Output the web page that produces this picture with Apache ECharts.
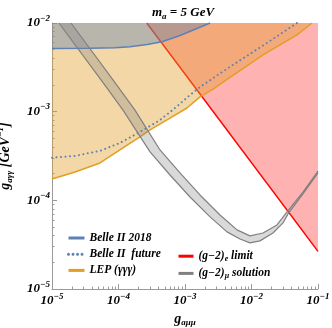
<!DOCTYPE html>
<html><head><meta charset="utf-8">
<script src="https://cdn.jsdelivr.net/npm/echarts@6/dist/echarts.min.js"></script>
<style>html,body{margin:0;padding:0;background:#fff}#c{width:332px;height:328px}</style>
</head><body><div id="c"></div>
<script>
// ---- data ----
const xTicks = [1e-5, 1e-4, 1e-3, 1e-2, 1e-1];
const yTicks = [1e-5, 1e-4, 1e-3, 1e-2];
const xMinorTicks = [];
const yMinorTicks = [];
[1e-5, 1e-4, 1e-3, 1e-2].forEach(d => { for (let k = 2; k <= 9; k++) xMinorTicks.push(k * d); });
[1e-5, 1e-4, 1e-3].forEach(d => { for (let k = 2; k <= 9; k++) yMinorTicks.push(k * d); });

const belle18X = [1e-5, 3.72e-5, 8.85e-5, 1.49e-4, 2.69e-4, 4.51e-4, 8.41e-4, 1.51e-3, 2.38e-3];
const belle18Y = [5.16e-3, 5.19e-3, 5.25e-3, 5.40e-3, 5.73e-3, 6.15e-3, 7.23e-3, 8.67e-3, 1.0e-2];
const belleFutX = [1e-5, 2.22e-5, 5.27e-5, 1.05e-4, 2.10e-4, 4.21e-4, 7.08e-4, 1.19e-3, 1.68e-3, 4.75e-3, 1.49e-2, 4.83e-2];
const belleFutY = [3.03e-4, 3.17e-4, 3.61e-4, 4.44e-4, 5.90e-4, 8.05e-4, 1.10e-3, 1.54e-3, 1.90e-3, 3.21e-3, 5.57e-3, 1.0e-2];
const lepX = [1e-5, 2.22e-5, 5.27e-5, 1.05e-4, 2.10e-4, 2.98e-4, 5.36e-4, 1.07e-3, 1.68e-3, 2.64e-3, 4.75e-3, 1.49e-2, 4.83e-2, 8.13e-2];
const lepY = [1.74e-4, 2.09e-4, 2.64e-4, 3.70e-4, 5.19e-4, 6.22e-4, 8.07e-4, 1.10e-3, 1.47e-3, 1.80e-3, 2.43e-3, 4.36e-3, 7.33e-3, 1.0e-2];
const gex = [2.66e-4, 1e-1];
const gey = [1e-2, 2.66e-5];
const gmuLoX = [1.27e-5, 5.46e-5, 1.17e-4, 2.98e-4, 5.95e-4, 1.19e-3, 2.38e-3, 4.28e-3, 6.72e-3, 9.49e-3, 1.34e-2, 2.10e-2, 2.98e-2, 3.54e-2, 5.94e-2, 1e-1];
const gmuLoY = [1e-2, 2.28e-3, 1.04e-3, 3.52e-4, 1.93e-4, 1.09e-4, 6.50e-5, 4.41e-5, 3.67e-5, 3.31e-5, 3.49e-5, 4.28e-5, 5.56e-5, 7.03e-5, 1.18e-4, 2.04e-4];
const gmuHiX = [1.93e-5, 8.26e-5, 1.77e-4, 4.21e-4, 8.41e-4, 1.68e-3, 3.36e-3, 6.05e-3, 9.49e-3, 1.49e-2, 2.42e-2, 3.42e-2, 5.94e-2, 1e-1];
const gmuHiY = [1e-2, 2.28e-3, 1.04e-3, 3.70e-4, 2.04e-4, 1.15e-4, 6.84e-5, 4.64e-5, 3.97e-5, 4.28e-5, 5.28e-5, 7.40e-5, 1.24e-4, 2.14e-4];

const X_MIN = 1e-5, X_MAX = 1e-1, Y_MIN = 1e-5, Y_MAX = 1e-2;

// ---- helpers ----
const zip = (xs, ys) => xs.map((x, i) => [x, ys[i]]);
const FONT = 'Liberation Serif';
const base = { fontFamily: FONT, fontWeight: 'bold', fontStyle: 'italic', color: '#000' };

function polySeries(pts, fill, z) {
  return {
    type: 'custom', z: z, silent: true, coordinateSystem: 'cartesian2d',
    xAxisIndex: 0, yAxisIndex: 0,
    data: [pts[0]],
    renderItem: function (params, api) {
      return { type: 'polygon', shape: { points: pts.map(p => api.coord(p)) }, style: { fill: fill } };
    }
  };
}
function lineSeries(name, pts, color, z, extra) {
  return Object.assign({
    type: 'line', name: name, z: z, data: pts, symbol: 'none', silent: true,
    lineStyle: { color: color, width: 1.5 }, itemStyle: { color: color }
  }, extra || {});
}

const belle18 = zip(belle18X, belle18Y);
const belleFut = zip(belleFutX, belleFutY);
const lep = zip(lepX, lepY);
const ge = zip(gex, gey);
const gmuLo = zip(gmuLoX, gmuLoY);
const gmuHi = zip(gmuHiX, gmuHiY);

const pinkPoly = ge.concat([[X_MAX, Y_MAX]]);
const lepPoly = lep.concat([[X_MIN, Y_MAX]]);
const bellePoly = belle18.concat([[X_MIN, Y_MAX]]);
const bandPoly = gmuLo.concat(gmuHi.slice().reverse());

const expLabel = v => '{b|10}{s|\u2212' + Math.round(-Math.log10(v)) + '}';
const tickRich = {
  b: Object.assign({}, base, { fontSize: 13, lineHeight: 18 }),
  s: Object.assign({}, base, { fontSize: 9, lineHeight: 8, verticalAlign: 'top' })
};

const axisCommon = {
  type: 'log', logBase: 10, splitLine: { show: false },
  axisLine: { show: true, lineStyle: { color: '#9a9a9a', width: 1 } }
};

const legendCommon = {
  orient: 'vertical', itemHeight: 14, itemGap: 4.2, selectedMode: false,
  lineStyle: { width: 3 }, itemStyle: { opacity: 0 }
};

const option = {
  animation: false,
  backgroundColor: '#fff',
  title: {
    text: '{i|m}{sub|a}{i| = 5 GeV}', left: 147, top: 0,
    textStyle: {
      rich: {
        i: Object.assign({}, base, { fontSize: 13, lineHeight: 16 }),
        sub: Object.assign({}, base, { fontSize: 9, lineHeight: 8, verticalAlign: 'bottom' })
      }
    }
  },
  grid: { left: 52, right: 14, top: 23, bottom: 39, containLabel: false, outerBoundsMode: 'none' },
  xAxis: [
    Object.assign({}, axisCommon, {
      min: X_MIN, max: X_MAX, position: 'bottom',
      axisTick: { show: true, inside: true, length: 5, customValues: xTicks, lineStyle: { color: '#9a9a9a' } },
      axisLabel: { customValues: xTicks, formatter: expLabel, rich: tickRich, margin: 3, showMaxLabel: true, showMinLabel: true },
      name: '{g|g}{sub|a\u03bc\u03bc}', nameLocation: 'middle', nameGap: 22,
      nameTextStyle: {
        rich: {
          g: Object.assign({}, base, { fontSize: 14, lineHeight: 16 }),
          sub: Object.assign({}, base, { fontSize: 9, lineHeight: 8, verticalAlign: 'bottom' })
        }
      }
    }),
    Object.assign({}, axisCommon, {
      min: X_MIN, max: X_MAX, position: 'bottom', axisLine: { show: false },
      axisTick: { show: true, inside: true, length: 2.5, customValues: xMinorTicks, lineStyle: { color: '#9a9a9a' } },
      axisLabel: { show: false }
    })
  ],
  yAxis: [
    Object.assign({}, axisCommon, {
      min: Y_MIN, max: Y_MAX, position: 'left',
      axisTick: { show: true, inside: true, length: 5, customValues: yTicks, lineStyle: { color: '#9a9a9a' } },
      axisLabel: { customValues: yTicks, formatter: expLabel, rich: tickRich, margin: 2, showMaxLabel: true, showMinLabel: true },
      name: '{g|g}{sub|a\u03b3\u03b3}{g| [GeV}{sup|\u22121}{g|]}', nameLocation: 'middle', nameGap: 38, nameRotate: 90,
      nameTextStyle: {
        rich: {
          g: Object.assign({}, base, { fontSize: 14, lineHeight: 18 }),
          sub: Object.assign({}, base, { fontSize: 9, lineHeight: 8, verticalAlign: 'bottom' }),
          sup: Object.assign({}, base, { fontSize: 9, lineHeight: 8, verticalAlign: 'top' })
        }
      }
    }),
    Object.assign({}, axisCommon, {
      min: Y_MIN, max: Y_MAX, position: 'left', axisLine: { show: false },
      axisTick: { show: true, inside: true, length: 2.5, customValues: yMinorTicks, lineStyle: { color: '#9a9a9a' } },
      axisLabel: { show: false }
    })
  ],
  legend: [
    Object.assign({}, legendCommon, {
      left: 62, top: 227, itemWidth: 16,
      data: ['belle18', 'belleFut', 'lep'],
      formatter: n => ({ belle18: '{t|Belle II 2018}', belleFut: '{t|Belle II  future}', lep: '{t|LEP (\u03b3\u03b3\u03b3)}' })[n],
      textStyle: { rich: { t: Object.assign({}, base, { fontSize: 11.5 }) } }
    }),
    Object.assign({}, legendCommon, {
      left: 172, top: 245.2, itemWidth: 15,
      data: ['ge', 'gmu'],
      formatter: n => ({ ge: '{t|(g\u22122)}{sub|e}{t| limit}', gmu: '{t|(g\u22122)}{sub|\u03bc}{t| solution}' })[n],
      textStyle: {
        rich: {
          t: Object.assign({}, base, { fontSize: 11.5, lineHeight: 14 }),
          sub: Object.assign({}, base, { fontSize: 8, lineHeight: 7, verticalAlign: 'bottom' })
        }
      }
    })
  ],
  series: [
    polySeries(pinkPoly, 'rgba(255,0,0,0.30)', 1),
    lineSeries('ge', ge, '#ff0000', 2),
    polySeries(lepPoly, 'rgba(225,156,36,0.40)', 3),
    lineSeries('lep', lep, '#e39e24', 4),
    polySeries(bellePoly, 'rgba(94,129,181,0.40)', 5),
    lineSeries('belle18', belle18, '#5e81b5', 6),
    lineSeries('belleFut', belleFut, '#5e81b5', 6, { lineStyle: { color: '#5e81b5', width: 2, type: [0.01, 4.5], cap: 'round' } }),
    polySeries(bandPoly, 'rgba(128,128,128,0.30)', 7),
    lineSeries('gmu', gmuLo, '#808080', 8, { lineStyle: { color: '#808080', width: 1.2 } }),
    lineSeries('gmu', gmuHi, '#808080', 8, { lineStyle: { color: '#808080', width: 1.2 } })
  ]
};

const chart = echarts.init(document.getElementById('c'), null, { renderer: 'canvas' });
chart.setOption(option);
</script>
</body></html>
